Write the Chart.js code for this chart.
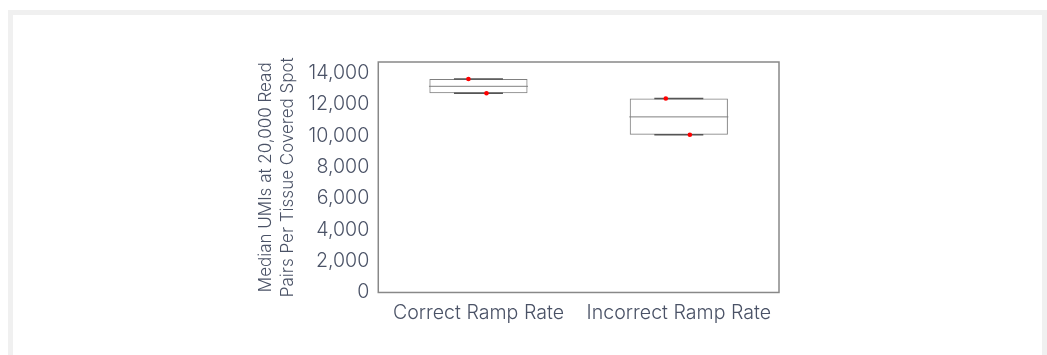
<!DOCTYPE html>
<html>
<head>
<meta charset="utf-8">
<script src="https://cdn.jsdelivr.net/npm/chart.js@4"></script>
<style>
  html, body { margin: 0; padding: 0; background: #fff; }
  #wrap { position: relative; width: 1047px; height: 355px; overflow: hidden; }
  #frame {
    position: absolute; left: 8px; top: 10px; right: 0; bottom: -20px;
    border: 5px solid #f0f0f0; border-bottom: none; pointer-events: none;
  }
  canvas { position: absolute; left: 0; top: 0; }
</style>
</head>
<body>
<div id="wrap">
  <canvas id="chart" width="1047" height="355"></canvas>
  <div id="frame"></div>
</div>
<script>
// box plot of median UMIs, two ramp-rate groups, drawn with floating bars + scatter marks

const categories = ["Correct Ramp Rate", "Incorrect Ramp Rate"];
const boxLow = [12710, 10060];
const boxHigh = [13620, 12370];
const medians = [13150, 11200];
const whiskerLow = [12710, 10060];
const whiskerHigh = [13620, 12370];
// individual samples per group, with small horizontal jitter (in category units)
const sampleValues = [[13620, 12710], [12370, 10060]];
const sampleJitter = [[-0.05, 0.04], [-0.065, 0.055]];
const yTicks = [0, 2000, 4000, 6000, 8000, 10000, 12000, 14000];

const textColor = "#4a5266";
const font = { family: "Inter, 'Open Sans', sans-serif", size: 19.6, weight: "300" };

const boxData = boxLow.map((v, i) => ({ x: i, y: [v, boxHigh[i]] }));
const medianPts = medians.map((v, i) => ({ x: i, y: v }));
const capPts = [];
whiskerLow.forEach((v, i) => capPts.push({ x: i, y: v }));
whiskerHigh.forEach((v, i) => capPts.push({ x: i, y: v }));
const samplePts = [];
sampleValues.forEach((vals, i) => {
    vals.forEach((v, j) => samplePts.push({ x: i + sampleJitter[i][j], y: v }));
});

const frameBox = {
    id: "frameBox",
    afterDraw(chart) {
        const a = chart.chartArea;
        const ctx = chart.ctx;
        ctx.save();
        ctx.strokeStyle = "#888";
        ctx.lineWidth = 1.5;
        ctx.strokeRect(a.left, a.top, a.right - a.left, a.bottom - a.top);
        ctx.restore();
    }
};

new Chart(document.getElementById("chart"), {
    data: {
        datasets: [
            {
                type: "bar",
                data: boxData,
                backgroundColor: "rgba(0,0,0,0)",
                borderColor: "#808080",
                borderWidth: 1,
                borderSkipped: false,
                barPercentage: 0.49,
                categoryPercentage: 1,
                order: 3
            },
            {
                type: "scatter",
                data: medianPts,
                pointStyle: "line",
                pointRadius: 49.5,
                borderColor: "#808080",
                borderWidth: 1,
                order: 2
            },
            {
                type: "scatter",
                data: capPts,
                pointStyle: "line",
                pointRadius: 24.5,
                borderColor: "#555",
                borderWidth: 1.5,
                order: 1
            },
            {
                type: "scatter",
                data: samplePts,
                pointStyle: "circle",
                pointRadius: 2.3,
                backgroundColor: "#ff0000",
                borderColor: "#ff0000",
                borderWidth: 0,
                order: 0
            }
        ]
    },
    options: {
        responsive: false,
        animation: false,
        events: [],
        layout: { padding: { left: 255, right: 268, top: 62, bottom: 29 } },
        plugins: { legend: { display: false }, tooltip: { enabled: false } },
        scales: {
            x: {
                type: "linear",
                min: -0.5,
                max: 1.5,
                offset: false,
                grid: { display: false, offset: false },
                border: { display: false },
                afterBuildTicks: axis => { axis.ticks = categories.map((c, i) => ({ value: i })); },
                ticks: {
                    color: textColor,
                    font: font,
                    padding: 1,
                    autoSkip: false,
                    maxRotation: 0,
                    callback: v => categories[v]
                }
            },
            y: {
                min: 0,
                max: 14700,
                grid: { display: false },
                border: { display: false },
                afterBuildTicks: axis => { axis.ticks = yTicks.map(v => ({ value: v })); },
                ticks: {
                    color: textColor,
                    font: font,
                    padding: 1,
                    callback: v => v.toLocaleString("en-US")
                },
                title: {
                    display: true,
                    text: ["Median UMIs at 20,000 Read", "Pairs Per Tissue Covered Spot"],
                    color: textColor,
                    font: { family: font.family, size: 17, weight: "300", lineHeight: 1.3 },
                    padding: { top: 0, bottom: 8 }
                }
            }
        }
    },
    plugins: [frameBox]
});
</script>
</body>
</html>
